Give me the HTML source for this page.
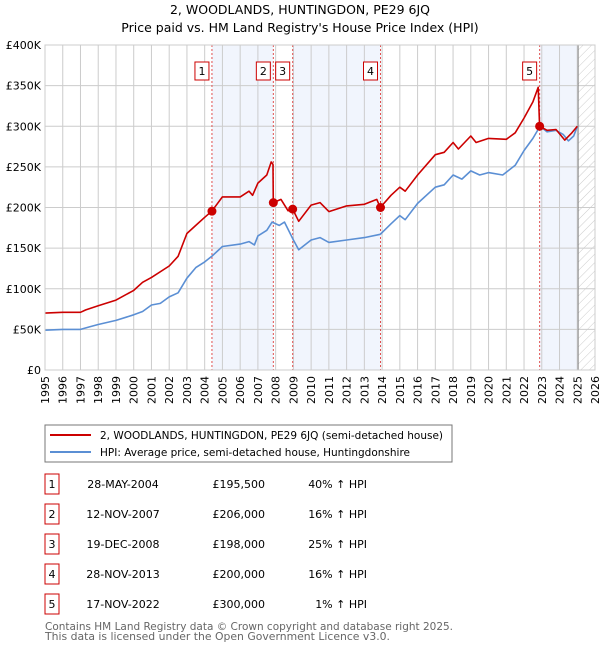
<!DOCTYPE html>
<html><head><meta charset="utf-8"><style>
body{margin:0;background:#fff;font-family:"DejaVu Sans","Liberation Sans",sans-serif;}
svg text{font-family:"DejaVu Sans","Liberation Sans",sans-serif;}
</style></head><body>
<svg id="c" width="600" height="650" xmlns="http://www.w3.org/2000/svg">
<defs><pattern id="hatch" width="6" height="6" patternUnits="userSpaceOnUse" patternTransform="rotate(45)"><line x1="0" y1="0" x2="0" y2="6" stroke="#ccc" stroke-width="1"/></pattern></defs>
<text x="300" y="14" text-anchor="middle" font-size="12.5">2, WOODLANDS, HUNTINGDON, PE29 6JQ</text>
<text x="300" y="32" text-anchor="middle" font-size="12.5">Price paid vs. HM Land Registry's House Price Index (HPI)</text>
<g id="plot"></g>
<rect x="45" y="425" width="407" height="37" fill="#fff" stroke="#777"/>
<line x1="50" y1="435" x2="91" y2="435" stroke="#cc0000" stroke-width="2"/>
<text x="100" y="439" font-size="11" textLength="343" lengthAdjust="spacingAndGlyphs">2, WOODLANDS, HUNTINGDON, PE29 6JQ (semi-detached house)</text>
<line x1="50" y1="452" x2="91" y2="452" stroke="#5b8fd4" stroke-width="2"/>
<text x="100" y="456" font-size="11" textLength="310" lengthAdjust="spacingAndGlyphs">HPI: Average price, semi-detached house, Huntingdonshire</text>
<g id="table"></g>
<text x="45" y="630" font-size="11" fill="#666" textLength="408" lengthAdjust="spacingAndGlyphs">Contains HM Land Registry data © Crown copyright and database right 2025.</text>
<text x="45" y="640" font-size="11" fill="#666" textLength="345" lengthAdjust="spacingAndGlyphs">This data is licensed under the Open Government Licence v3.0.</text>
</svg>
<script>
const yTicks=[0,50000,100000,150000,200000,250000,300000,350000,400000];
const yTickLabels=["£0","£50K","£100K","£150K","£200K","£250K","£300K","£350K","£400K"];
const years=[1995,1996,1997,1998,1999,2000,2001,2002,2003,2004,2005,2006,2007,2008,2009,2010,2011,2012,2013,2014,2015,2016,2017,2018,2019,2020,2021,2022,2023,2024,2025,2026];
const hpiT=[1995,1996,1997,1997.5,1998,1999,2000,2000.5,2001,2001.5,2002,2002.5,2003,2003.5,2004,2004.4,2005,2006,2006.5,2006.8,2007,2007.5,2007.8,2008.2,2008.5,2009,2009.3,2010,2010.5,2011,2012,2013,2013.9,2014.5,2015,2015.3,2016,2017,2017.5,2018,2018.5,2019,2019.5,2020,2020.8,2021.5,2022,2022.5,2022.9,2023.3,2023.8,2024.2,2024.5,2024.8,2025];
const hpiV=[49000,50000,50000,53000,56000,61000,68000,72000,80000,82000,90000,95000,113000,126000,133000,140000,152000,155000,158000,154000,165000,172000,182000,178000,182000,160000,148000,160000,163000,157000,160000,163000,167000,180000,190000,185000,205000,225000,228000,240000,235000,245000,240000,243000,240000,252000,270000,285000,300000,293000,295000,290000,282000,288000,300000];
const ppT=[1995,1996,1997,1997.3,1998,1999,2000,2000.5,2001,2002,2002.5,2003,2003.5,2004,2004.4,2005,2006,2006.5,2006.7,2007,2007.5,2007.75,2007.85,2007.87,2008.3,2008.7,2008.96,2009.3,2010,2010.5,2011,2012,2013,2013.7,2013.9,2014.5,2015,2015.3,2016,2017,2017.5,2018,2018.3,2019,2019.3,2020,2021,2021.5,2022,2022.5,2022.8,2022.88,2023.3,2023.8,2024.3,2024.7,2025];
const ppV=[70000,71000,71000,74000,79000,86000,98000,108000,114000,128000,140000,168000,178000,188000,195500,213000,213000,220000,215000,230000,240000,256000,253000,206000,210000,196000,198000,183000,203000,206000,195000,202000,204000,210000,200000,215000,225000,220000,240000,265000,268000,280000,272000,288000,280000,285000,284000,292000,310000,330000,348000,300000,295000,296000,283000,292000,300000];
const saleT=[2004.41,2007.87,2008.96,2013.91,2022.88];
const saleV=[195500,206000,198000,200000,300000];
const saleDates=["28-MAY-2004","12-NOV-2007","19-DEC-2008","28-NOV-2013","17-NOV-2022"];
const salePrices=["£195,500","£206,000","£198,000","£200,000","£300,000"];
const saleHpi=["40% ↑ HPI","16% ↑ HPI","25% ↑ HPI","16% ↑ HPI","1% ↑ HPI"];

const NS="http://www.w3.org/2000/svg";
const L=45,R=595,T=45,B=370;
const xs=t=>L+(t-1995)/(2026-1995)*(R-L);
const ys=v=>B-v/400000*(B-T);
const g=document.getElementById('plot');
function mk(tag,a,p){const e=document.createElementNS(NS,tag);for(const k in a)e.setAttribute(k,a[k]);(p||g).appendChild(e);return e;}
[[0,1],[2,3]].forEach(([a,b])=>{const r=mk('rect',{x:xs(saleT[a]),y:T,width:xs(saleT[b])-xs(saleT[a]),height:B-T,fill:'#eef3fc',opacity:0.8});

});
const r5=mk('rect',{x:xs(saleT[4]),y:T,width:xs(2025.05)-xs(saleT[4]),height:B-T,fill:'#eef3fc',opacity:0.8});


const hr=mk('rect',{x:xs(2025.05),y:T,width:R-xs(2025.05),height:B-T,fill:'url(#hatch)'});


years.forEach(y=>{const l=mk('line',{x1:xs(y),x2:xs(y),y1:T,y2:B,stroke:'#ccc'});


const t=mk('text',{x:0,y:0,'font-size':11,'text-anchor':'end',transform:`translate(${xs(y)+4},${B+6}) rotate(-90)`});t.textContent=y;

});
yTicks.forEach((v,i)=>{const l=mk('line',{x1:L,x2:R,y1:ys(v),y2:ys(v),stroke:'#ccc'});


const t=mk('text',{x:L-4,y:ys(v)+4,'font-size':11,'text-anchor':'end'});t.textContent=yTickLabels[i];

});
const vl=mk('line',{x1:xs(2025.05),x2:xs(2025.05),y1:T,y2:B,stroke:'#888'});


saleT.forEach((t,i)=>{const l=mk('line',{x1:xs(t),x2:xs(t),y1:T,y2:B,stroke:'#e05050','stroke-dasharray':'2,2'});


const bx=mk('rect',{x:xs(t)-17,y:62,width:14,height:18,fill:'#fff',stroke:'#cc0000'});


const tx=mk('text',{x:xs(t)-10,y:75,'font-size':11,'text-anchor':'middle'});tx.textContent=i+1;

});
function path(T_,V,c,n){const d=T_.map((t,i)=>(i?'L':'M')+xs(t).toFixed(1)+','+ys(V[i]).toFixed(1)).join('');
const p=mk('path',{d:d,fill:'none',stroke:c,'stroke-width':1.6,'stroke-linejoin':'round'});

}
path(hpiT,hpiV,'#5b8fd4','hpi-line');
path(ppT,ppV,'#cc0000','price-paid-line');
saleT.forEach((t,i)=>{const c=mk('circle',{cx:xs(t),cy:ys(saleV[i]),r:4.5,fill:'#cc0000'});

});
mk('rect',{x:L,y:T,width:R-L,height:B-T,fill:'none',stroke:'#ccc'});
const tb=document.getElementById('table');
saleDates.forEach((d,i)=>{const y=484+i*30;
const bx=mk('rect',{x:45,y:y-10,width:14,height:20,fill:'#fff',stroke:'#cc0000'},tb);


const cells=[[52,String(i+1),'middle'],[123,d,'middle'],[265,salePrices[i],'end'],[367,saleHpi[i],'end']];
cells.forEach(([x,s,a],j)=>{const t=mk('text',{x:x,y:y+4,'font-size':11,'text-anchor':a},tb);t.textContent=s;

});});
</script>
</body></html>
